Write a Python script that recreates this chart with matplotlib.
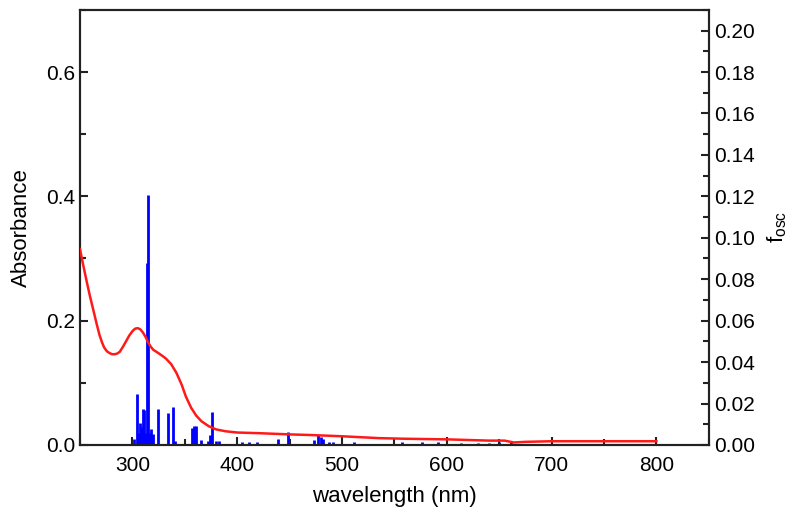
import matplotlib
matplotlib.use("Agg")
import matplotlib.pyplot as plt
from matplotlib.ticker import MultipleLocator

# --------------------------
# data
# --------------------------
# absorbance spectrum (left axis)
abs_wl = [250, 253, 256, 259, 262, 264, 266, 268.6, 271, 273, 275.5, 278,
          280.5, 283, 285.5, 288, 291, 294, 297, 300, 302.5, 305, 307.5,
          310, 312.5, 315, 317.5, 320, 324.6, 328, 332, 337, 342, 347, 351,
          356, 361, 366, 373, 380, 389, 400, 420, 450, 470, 500, 535, 560,
          600, 640, 655, 664, 675, 700, 750, 800]
abs_val = [0.315, 0.290, 0.266, 0.243, 0.222, 0.208, 0.194, 0.177, 0.165,
           0.157, 0.151, 0.148, 0.146, 0.146, 0.147, 0.150, 0.158, 0.167,
           0.176, 0.183, 0.187, 0.188, 0.186, 0.181, 0.174, 0.165, 0.158,
           0.153, 0.148, 0.144, 0.139, 0.130, 0.116, 0.097, 0.078, 0.060,
           0.047, 0.038, 0.030, 0.025, 0.022, 0.020, 0.019, 0.017, 0.016,
           0.014, 0.011, 0.010, 0.009, 0.007, 0.007, 0.004, 0.005, 0.006,
           0.006, 0.006]

# oscillator strengths (right axis)
osc_wl = [302, 304, 306, 307, 308, 309, 310, 311, 312, 313, 314, 315, 316,
          317, 318, 319, 320, 324, 334, 339, 341, 357, 359, 361, 365, 372,
          374, 376, 380, 383, 405, 411, 419, 439, 448, 473, 477, 480, 482,
          488, 491, 511, 557, 576, 592, 614, 630, 640, 650, 661]
osc_f = [0.003, 0.0246, 0.006, 0.0106, 0.0087, 0.0082, 0.0173, 0.0169,
         0.006, 0.004, 0.0877, 0.1205, 0.0058, 0.004, 0.0077, 0.003, 0.0053,
         0.0173, 0.0155, 0.0183, 0.002, 0.0082, 0.0092, 0.009, 0.0025, 0.002,
         0.005, 0.016, 0.002, 0.002, 0.0015, 0.0015, 0.0012, 0.003, 0.0061,
         0.0025, 0.0048, 0.004, 0.003, 0.0015, 0.0015, 0.0015, 0.0012,
         0.0012, 0.0012, 0.001, 0.001, 0.001, 0.0012, 0.0015]

# --------------------------
# style
# --------------------------
plt.rcParams['font.family'] = ['Liberation Sans', 'DejaVu Sans']
plt.rcParams['mathtext.fontset'] = 'custom'
plt.rcParams['mathtext.rm'] = 'Liberation Sans'
plt.rcParams['mathtext.it'] = 'Liberation Sans'

fig = plt.figure(figsize=(8, 5.18), dpi=100)
ax = fig.add_axes([0.1, 0.141, 0.786, 0.84])
ax2 = ax.twinx()

ax.plot(abs_wl, abs_val, color='#ff1a1a', lw=1.8, zorder=3)
ax2.vlines(osc_wl, 0, osc_f, color='#0000ff', lw=2)

ax.set_zorder(ax2.get_zorder() + 1)
ax.patch.set_visible(False)

ax.set_xlim(250, 850)
ax.set_ylim(0, 0.7)
ax2.set_ylim(0, 0.21)

ax.xaxis.set_major_locator(MultipleLocator(100))
ax.xaxis.set_minor_locator(MultipleLocator(50))
ax.yaxis.set_major_locator(MultipleLocator(0.2))
ax.yaxis.set_minor_locator(MultipleLocator(0.1))
ax2.yaxis.set_major_locator(MultipleLocator(0.02))
ax2.yaxis.set_minor_locator(MultipleLocator(0.01))
ax.set_xticks([300, 400, 500, 600, 700, 800])
ax.yaxis.set_major_formatter(plt.FormatStrFormatter('%.1f'))
ax2.yaxis.set_major_formatter(plt.FormatStrFormatter('%.2f'))

for a in (ax, ax2):
    for s in a.spines.values():
        s.set_linewidth(1.5)
        s.set_color('#222222')

ax.tick_params(axis='both', which='major', direction='in', length=6, width=1.5,
               labelsize=15, color='#222222', top=False, right=False)
ax.tick_params(axis='both', which='minor', direction='in', length=4, width=1.5,
               color='#222222', top=False, right=False)
ax.tick_params(axis='x', pad=8)
ax2.tick_params(axis='y', which='major', direction='in', length=6, width=1.5,
                labelsize=15, color='#222222')
ax2.tick_params(axis='y', which='minor', direction='in', length=4, width=1.5,
                color='#222222')

ax.set_xlabel('wavelength (nm)', fontsize=16, labelpad=8)
ax.set_ylabel('Absorbance', fontsize=16, labelpad=10)
ax2.set_ylabel(r'f$_{\mathrm{osc}}$', fontsize=16, labelpad=8)

fig.savefig('out.png', dpi=100)
